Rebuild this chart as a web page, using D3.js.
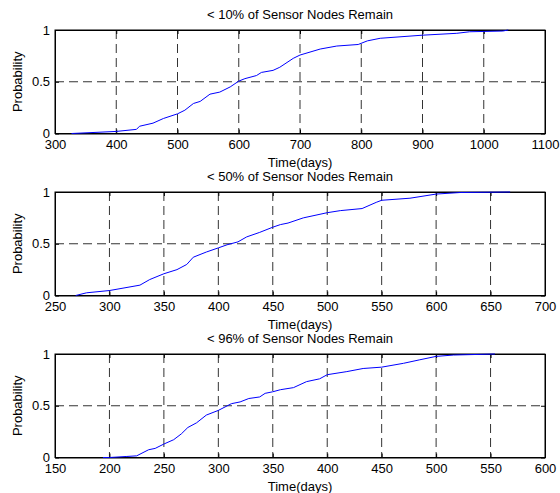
<!DOCTYPE html>
<html>
<head>
<meta charset="utf-8">
<script src="https://cdn.jsdelivr.net/npm/d3@7"></script>
<style>
  body { margin: 0; background: #fff; }
  text { font-family: "Liberation Sans", Arial, sans-serif; }
</style>
</head>
<body>
<div id="chart"></div>
<script>
// Data
const titles = ["< 10% of Sensor Nodes Remain", "< 50% of Sensor Nodes Remain", "< 96% of Sensor Nodes Remain"];

const days10 = [327, 400, 433, 438, 460, 477, 500, 512, 526, 537, 553, 569, 586, 600, 610, 629, 637, 656, 667, 689, 700, 733, 760, 795, 810, 831, 900, 956, 977, 1031, 1040];
const prob10 = [0, 0.02, 0.04, 0.07, 0.10, 0.145, 0.19, 0.225, 0.29, 0.31, 0.38, 0.40, 0.45, 0.506, 0.53, 0.56, 0.59, 0.61, 0.64, 0.726, 0.758, 0.816, 0.845, 0.86, 0.895, 0.92, 0.95, 0.968, 0.983, 0.99, 1.0];

const days50 = [269, 279, 300, 328, 337, 350, 362, 371, 377, 389, 400, 408, 418, 426, 438, 450, 457, 464, 478, 500, 512, 532, 545, 550, 576, 600, 622, 668];
const prob50 = [0, 0.026, 0.048, 0.10, 0.154, 0.21, 0.25, 0.30, 0.37, 0.42, 0.46, 0.49, 0.518, 0.566, 0.61, 0.66, 0.685, 0.70, 0.75, 0.80, 0.82, 0.84, 0.90, 0.92, 0.94, 0.98, 0.995, 1.0];

const days96 = [194, 200, 216, 225, 236, 242, 250, 259, 266, 272, 280, 289, 300, 312, 320, 328, 338, 343, 350, 357, 369, 381, 393, 400, 418, 433, 450, 470, 485, 500, 516, 554];
const prob96 = [0, 0, 0.01, 0.016, 0.075, 0.088, 0.13, 0.172, 0.228, 0.29, 0.335, 0.41, 0.455, 0.52, 0.537, 0.57, 0.585, 0.62, 0.635, 0.655, 0.675, 0.733, 0.76, 0.80, 0.83, 0.86, 0.873, 0.91, 0.944, 0.977, 0.99, 1.0];

const xTicks10 = [300, 400, 500, 600, 700, 800, 900, 1000, 1100];
const xTicks50 = [250, 300, 350, 400, 450, 500, 550, 600, 650, 700];
const xTicks96 = [150, 200, 250, 300, 350, 400, 450, 500, 550, 600];
const yTicks = [0, 0.5, 1];

const panels = [
    { title: titles[0], days: days10, prob: prob10, ticks: xTicks10 },
    { title: titles[1], days: days50, prob: prob50, ticks: xTicks50 },
    { title: titles[2], days: days96, prob: prob96, ticks: xTicks96 }
];

// Layout
const width = 560;
const height = 493;
const left = 55, right = 545;
const plotH = 103.5;
const tops = [30, 192, 354];

const svg = d3.select("#chart")
    .append("svg")
    .attr("width", width)
    .attr("height", height);

panels.forEach((p, i) => {
    const g = svg.append("g")
        .attr("transform", `translate(${left},${tops[i]})`);
    const w = right - left;

    const x = d3.scaleLinear()
        .domain(d3.extent(p.ticks))
        .range([0, w]);
    const y = d3.scaleLinear()
        .domain([0, 1])
        .range([plotH, 0]);

    // dashed grid
    g.selectAll(".vgrid")
        .data(p.ticks.slice(1, -1))
        .enter()
        .append("line")
        .attr("x1", d => x(d)).attr("x2", d => x(d))
        .attr("y1", 0).attr("y2", plotH)
        .attr("stroke", "#333")
        .attr("stroke-dasharray", "9,5");
    g.selectAll(".hgrid")
        .data(yTicks.slice(1, -1))
        .enter()
        .append("line")
        .attr("x1", 0).attr("x2", w)
        .attr("y1", d => y(d)).attr("y2", d => y(d))
        .attr("stroke", "#333")
        .attr("stroke-dasharray", "9,5");

    // axes, ticks pointing inward
    g.append("g")
        .attr("transform", `translate(0,${plotH})`)
        .call(d3.axisBottom(x).tickValues(p.ticks).tickSize(-4).tickSizeOuter(0).tickPadding(6).tickFormat(d3.format("d")));
    g.append("g")
        .call(d3.axisLeft(y).tickValues(yTicks).tickSize(-4).tickSizeOuter(0).tickPadding(5).tickFormat(d => d));
    g.append("g")
        .call(d3.axisTop(x).tickValues(p.ticks).tickSize(-4).tickSizeOuter(0).tickFormat(""));
    g.append("g")
        .attr("transform", `translate(${w},0)`)
        .call(d3.axisRight(y).tickValues(yTicks).tickSize(-4).tickSizeOuter(0).tickFormat(""));

    svg.selectAll(".tick text")
        .attr("font-size", 13)
        .attr("font-family", "Liberation Sans, Arial, sans-serif")
        .attr("fill", "#000");
    svg.selectAll(".domain, .tick line").attr("stroke", "#000");

    // box
    g.append("rect")
        .attr("width", w)
        .attr("height", plotH)
        .attr("fill", "none")
        .attr("stroke", "#000");

    // CDF curve
    const line = d3.line()
        .x(d => x(d))
        .y((d, k) => y(p.prob[k]));
    g.append("path")
        .attr("d", line(p.days))
        .attr("fill", "none")
        .attr("stroke", "#0000ff")
        .attr("stroke-width", 1);

    // labels
    g.append("text")
        .attr("x", w / 2)
        .attr("y", -11.5)
        .attr("text-anchor", "middle")
        .attr("font-size", 13)
        .text(p.title);
    g.append("text")
        .attr("x", w / 2)
        .attr("y", plotH + 33)
        .attr("text-anchor", "middle")
        .attr("font-size", 13)
        .text("Time(days)");
    g.append("text")
        .attr("transform", `translate(${22 - left},${plotH / 2}) rotate(-90)`)
        .attr("text-anchor", "middle")
        .attr("font-size", 13)
        .text("Probability");
});
</script>
</body>
</html>
